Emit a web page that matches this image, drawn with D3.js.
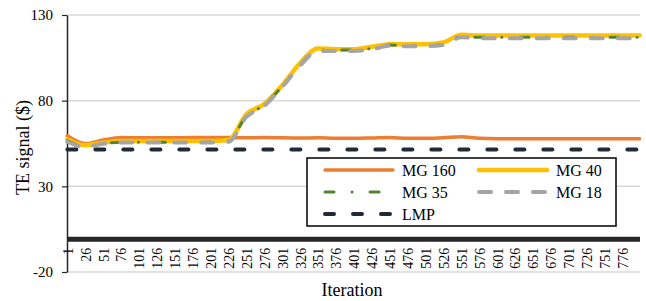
<!DOCTYPE html>
<html>
<head>
<meta charset="utf-8">
<script src="https://cdn.jsdelivr.net/npm/d3@7"></script>
<style>
  body { margin: 0; background: #fff; }
  svg text { font-family: "Times New Roman", Times, "Liberation Serif", "DejaVu Serif", serif; }
</style>
</head>
<body>
<div id="chart"></div>
<script>
// iterations where values were read (labelled categories + last point)
const iterations = [1, 26, 51, 76, 101, 126, 151, 176, 201, 226, 251, 276, 301, 326, 351, 376,
  401, 426, 451, 476, 501, 526, 551, 576, 601, 626, 651, 676, 701, 726, 751, 776, 800];
const xTickLabels = iterations.slice(0, 32);
const yTicks = [-20, 30, 80, 130];

const mg160 = [59.5, 55, 57, 58.5, 58.3, 58.3, 58.3, 58.5, 58.5, 58.5, 58.3, 58.5, 58.3, 58.2, 58.3, 58,
  58, 58.2, 58.5, 58, 58, 58.3, 59, 58, 57.8, 57.8, 57.8, 57.8, 57.8, 57.8, 57.8, 57.8, 57.8];
const mg40 = [57.5, 54, 55.5, 56.5, 56.5, 56.5, 56.5, 56.5, 56.5, 57, 72, 78, 89, 102, 110.5, 110,
  110, 111.5, 113, 113, 113, 114, 118.5, 118, 118, 118, 118, 118, 118, 118, 118, 118, 118];
const mg35 = [56.5, 53.5, 55, 55.8, 55.8, 55.8, 55.8, 55.8, 55.8, 56.5, 71, 77.5, 88.5, 101, 109.5, 109.5,
  109.5, 110.5, 112.5, 112, 112, 113, 117.5, 117, 117, 117, 117, 117, 117, 117, 117, 117, 117];
const mg18 = [56, 53, 54.8, 55.6, 55.6, 55.6, 55.6, 55.6, 55.6, 56, 70.5, 77, 88, 100.5, 109, 109,
  109, 110, 112, 111.8, 111.8, 112.5, 117, 116.5, 116.5, 116.5, 116.5, 116.5, 116.5, 116.5, 116.5, 116.5, 116.5];
const lmp = iterations.map(() => 51.5);

const series = [
  { name: 'MG 160', values: mg160, color: '#ed7d31', width: 3.5, dash: null },
  { name: 'MG 40', values: mg40, color: '#ffc000', width: 4.5, dash: null },
  { name: 'MG 35', values: mg35, color: '#548235', width: 3, dash: '9 18 0.1 18' },
  { name: 'MG 18', values: mg18, color: '#a5a5a5', width: 4, dash: '12 15' },
  { name: 'LMP', values: lmp, color: '#222a35', width: 4, dash: '9 19' }
];

const w = 646;
const h = 301;
const margin = { top: 15, right: 6, bottom: 29, left: 67 };
const serif = '"Times New Roman", Times, "Liberation Serif", "DejaVu Serif", serif';

const xScale = d3.scaleLinear()
  .domain([0.5, 800.5])
  .range([margin.left, w - margin.right]);

const yScale = d3.scaleLinear()
  .domain([-20, 130])
  .range([h - margin.bottom, margin.top]);

const svg = d3.select('#chart')
  .append('svg')
  .attr('width', w)
  .attr('height', h)
  .attr('font-family', serif);

svg.append('rect').attr('width', w).attr('height', h).attr('fill', '#fff');

// gridlines
svg.append('g')
  .selectAll('line')
  .data(yTicks)
  .join('line')
  .attr('x1', margin.left)
  .attr('x2', w - margin.right)
  .attr('y1', d => yScale(d))
  .attr('y2', d => yScale(d))
  .attr('stroke', '#d9d9d9')
  .attr('stroke-width', 1.5);

// y axis
const yAxis = d3.axisLeft(yScale)
  .tickValues(yTicks)
  .tickSize(5)
  .tickSizeOuter(0)
  .tickPadding(9)
  .tickFormat(d => String(d));

const yg = svg.append('g')
  .attr('transform', `translate(${margin.left},0)`)
  .call(yAxis)
  .attr('font-family', serif);
yg.select('.domain').attr('stroke', '#262626').attr('stroke-width', 1.5);
yg.selectAll('.tick line').attr('stroke', '#262626').attr('stroke-width', 1.2);
yg.selectAll('.tick text')
  .attr('fill', '#000')
  .style('font-size', '15px');

// x axis labels (category ticks)
const xAxis = d3.axisBottom(xScale)
  .tickValues(xTickLabels)
  .tickSize(0)
  .tickFormat(d => String(d));

const xg = svg.append('g')
  .attr('transform', `translate(0,${yScale(0)})`)
  .call(xAxis)
  .attr('font-family', serif);
xg.select('.domain').remove();
xg.selectAll('.tick text')
  .attr('transform', 'rotate(-90)')
  .attr('x', -10)
  .attr('y', 0)
  .attr('dy', '0.35em')
  .attr('text-anchor', 'end')
  .attr('fill', '#000')
  .style('font-size', '14px');

// thick zero line
svg.append('line')
  .attr('x1', margin.left)
  .attr('x2', w - margin.right)
  .attr('y1', yScale(0) + 1.5)
  .attr('y2', yScale(0) + 1.5)
  .attr('stroke', '#262626')
  .attr('stroke-width', 5);

// lines
const line = d3.line()
  .curve(d3.curveMonotoneX)
  .x((d, i) => xScale(iterations[i]))
  .y(d => yScale(d));

series.forEach(s => {
  svg.append('path')
    .datum(s.values)
    .attr('fill', 'none')
    .attr('stroke', s.color)
    .attr('stroke-width', s.width)
    .attr('stroke-linecap', 'round')
    .attr('stroke-linejoin', 'round')
    .attr('stroke-dasharray', s.dash)
    .attr('d', line);
});

// legend
const legend = svg.append('g');
legend.append('rect')
  .attr('x', 307)
  .attr('y', 158)
  .attr('width', 309)
  .attr('height', 68)
  .attr('fill', '#fff')
  .attr('stroke', '#000')
  .attr('stroke-width', 1.5);

const legendPos = [
  { x: 325, y: 170 }, { x: 479, y: 170 },
  { x: 325, y: 192 }, { x: 479, y: 192 },
  { x: 325, y: 214 }
];

series.forEach((s, i) => {
  const p = legendPos[i];
  legend.append('line')
    .attr('x1', p.x)
    .attr('x2', p.x + 68)
    .attr('y1', p.y)
    .attr('y2', p.y)
    .attr('stroke', s.color)
    .attr('stroke-width', s.width)
    .attr('stroke-linecap', 'round')
    .attr('stroke-dasharray', s.dash);
  legend.append('text')
    .attr('x', p.x + 77)
    .attr('y', p.y + 5.5)
    .attr('fill', '#000')
    .style('font-size', '16px')
    .text(s.name);
});

// axis titles
svg.append('text')
  .attr('transform', 'translate(29,147.5) rotate(-90)')
  .attr('text-anchor', 'middle')
  .style('font-size', '18px')
  .text('TE signal ($)');

svg.append('text')
  .attr('x', 352)
  .attr('y', 296)
  .attr('text-anchor', 'middle')
  .style('font-size', '18px')
  .text('Iteration');
</script>
</body>
</html>
